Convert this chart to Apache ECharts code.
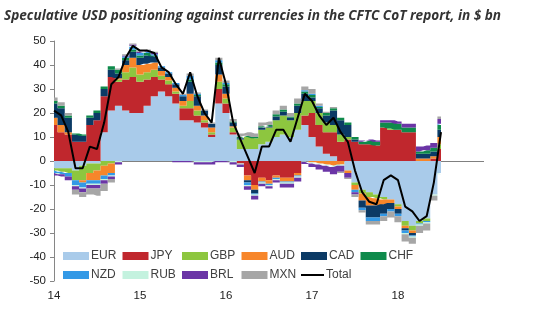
<!DOCTYPE html>
<html><head><meta charset="utf-8">
<script src="https://cdn.jsdelivr.net/npm/echarts@6/dist/echarts.min.js"></script>
<style>html,body{margin:0;padding:0;background:#fff}#c{width:549px;height:323px}</style>
</head><body><div id="c"></div>
<script>
// Monthly categories, Jan 2014 .. Jan 2019
const months = [
'2014-01','2014-02','2014-03','2014-04','2014-05','2014-06','2014-07','2014-08','2014-09','2014-10','2014-11','2014-12',
'2015-01','2015-02','2015-03','2015-04','2015-05','2015-06','2015-07','2015-08','2015-09','2015-10','2015-11','2015-12',
'2016-01','2016-02','2016-03','2016-04','2016-05','2016-06','2016-07','2016-08','2016-09','2016-10','2016-11','2016-12',
'2017-01','2017-02','2017-03','2017-04','2017-05','2017-06','2017-07','2017-08','2017-09','2017-10','2017-11','2017-12',
'2018-01','2018-02','2018-03','2018-04','2018-05','2018-06','2018-07','2018-08','2018-09','2018-10','2018-11','2018-12',
'2019-01'];
const tickLabels = ['14','15','16','17','18'];

const EUR = [-3,-3,-3,-4,-2,-1,-1,12,21,23,21,20, 20,23,27,29,27,24,17,17,16,14,10,24, 20,11,5,5,5,7,8,10,11,10,13,15, 10,6,3,2,0,-4,-9,-12,-13,-14,-15,-16, -18,-25,-27,-25,-24,-14,-5];
const JPY = [15,12,11,8,8,15,17,15,14,10,13,15, 13,11,8,5,5,4,5,5,3,2,1,6, 4,1,-1,-6,-10,-7,-8,-6,-7,-7,-5,4, 10,9,9,10,8,9,8,7,7,6.5,14,13, 13,12,12,0,0,1,5];
const GBP = [-1,-1.5,-2,-4,-6,-4,-3,-2,-1,1,3,4, 3,3,3,1.5,1.5,1,1,3,2,1,1,3, 2,2,4,5,4.5,6,6,7,8,7,7,6, 5,5,4,3,3,1,-1,-1.5,-2,-1.5,-1,0.5, -1,-2,-2,-1,-1,0,2];
const AUD = [3,3,1,0,-1,-3,-4,-4,-4,0.5,3,4, 4,3.5,3,2,1.5,1.5,2,3,2,2,2,3, 2,0.5,0,-2,-2,-1.5,-1.5,-1,-1.5,-1.5,-1,0, -0.5,-1,-1.5,-2,-1.5,-1,-2,-3,-3.5,-3,-2,-1.5, -1,-1,-1,1,1,1,3];
const CAD = [6,7,6,3,2.5,3,3,3,3,2,2,2.5, 3,3.5,2.5,1.5,1.5,1.5,2,5,4,2,1.5,4, 3,1.5,0.5,-1,-1.5,1,0.5,1.5,1.5,1,3,3, 1.5,2,3,6,6,5,1,-3,-5,-5,-4,-2.5, -2,-1,-1,2,2,2,3];
const CHF = [1,1,1,0.5,0.5,1,1,1,1.5,1.5,1,1, 1,1,0.5,0,0,0,0,1,0.5,0,0,1, 1,0.5,0.5,0.5,0.5,0.5,0.5,1,1,0.5,1,1, 1,0.5,1,1,1,1,1,1,1.5,1.5,2,2.5, 2.5,2,2,1,1.5,1.5,2];
const NZD = [-1,-1,-1.5,-2,-2,-1.5,-1.5,-1.5,-1,0,0.5,1, 1,0.5,0.5,0.5,0.5,0.5,0.5,1.5,0.5,0,0,1, 0.5,0,0,-1,-0.5,-0.5,-0.5,-0.5,-0.5,-0.5,-0.5,0.5, 0.5,0.5,0,0,0,0,-1,-1,-1.5,-1.5,-1,-1, -1,-1,-0.5,-0.5,-0.5,0,0.5];
const RUB = [0,0,0,-0.5,-0.5,-0.5,-0.5,-0.5,-0.5,-0.5,0,0.5, 0,0,0,0,0,0,0,0,-0.5,-0.5,-0.5,0, 0,-0.5,-0.5,-0.5,-0.5,-0.5,-0.5,-0.5,-0.5,-0.5,-0.5,-0.3, -0.5,-0.5,-0.5,-0.5,-0.5,0,0,0,0,0,0,0, 0,-0.5,-0.5,-0.5,-0.5,-0.5,-0.5];
const BRL = [-1,-1,-1.5,-1.5,-1.5,-1.5,-1.5,-1.5,-1,-1,0.5,0.5, 0.5,0.5,0.5,0,0,-0.5,-0.5,-0.5,-1,-1,-1,-0.5, -0.5,-1,-1,-1.5,-1.5,-1,-1,-1,-1.5,-1.5,-1.5,-1, -1.5,-2,-2.5,-3,-2.5,-2,-1,0.5,0.5,0.5,1,1, 1,1.5,1.5,2,2,2,2];
const MXN = [1.5,1.5,1,-2,-2,-2.5,-3,-3,-1.5,0.5,0.5,0.5, 0.5,0.5,0.5,0,0,0,0.5,1,0.5,0.5,0.5,1, 1,1,1.5,1.5,1.5,1.5,1.5,1.5,1.5,1.5,2,1.5, 2,1,0.5,0.5,-0.5,-0.5,-1,-1,-1.5,-1.5,-2,-2.5, -2.5,-3,-2.5,-3,-3,-2,1];
const TOTAL = [21,19,12,-3,-3,6,5,16,32,35,43,48, 46,46,45,39,37,32,28,37,27,20,16,43, 32,16,9,2,-5,6,6,13,13,8,18,28, 25,19,15,18,12,8,-4,-13,-17,-18,-8,-6, -8,-19,-21,-25,-23,-9,12];

const names = ['EUR','JPY','GBP','AUD','CAD','CHF','NZD','RUB','BRL','MXN'];
const values = [EUR,JPY,GBP,AUD,CAD,CHF,NZD,RUB,BRL,MXN];
const colors = ['#a9cbea','#c0272d','#8dc63f','#f7862a','#0b3a65','#0e8a4b','#3399e6','#c4f2df','#6b35a6','#a6a6a6'];

const series = names.map((n, i) => ({
  name: n, type: 'line', stack: 'all', stackStrategy: 'samesign', step: 'middle',
  symbol: 'none', showSymbol: false, data: values[i],
  lineStyle: { width: 0, opacity: 0 },
  itemStyle: { color: colors[i] },
  areaStyle: { color: colors[i], opacity: 1 },
  z: 2
}));
series.push({
  name: 'Total', type: 'line', data: TOTAL, symbol: 'none', showSymbol: false,
  lineStyle: { color: '#000', width: 2 }, itemStyle: { color: '#000' }, z: 5,
  markLine: { silent: true, symbol: 'none', label: { show: false },
    lineStyle: { color: '#808080', width: 1, type: 'solid' }, data: [{ yAxis: 0 }], z: 1 }
});

const legendNames = ['EUR','JPY','GBP','AUD','CAD','CHF','NZD','RUB','BRL','MXN','Total'];
const legends = legendNames.map((n, i) => {
  const col = i % 6, row = Math.floor(i / 6);
  const isTotal = n === 'Total';
  return {
    data: [{ name: n, icon: 'rect' }],
    left: 63 + col * 59.5, top: row === 0 ? 250 : 269,
    padding: 0, itemWidth: isTotal ? 23 : 26, itemHeight: isTotal ? 2 : 8, itemGap: 0,
    selectedMode: false,
    textStyle: { fontFamily: 'Liberation Sans', fontSize: 12, color: '#404040', padding: [0,0,0,-3] }
  };
});

const chart = echarts.init(document.getElementById('c'));
chart.setOption({
  animation: false,
  title: { text: 'Speculative USD positioning against currencies in the CFTC CoT report, in $ bn',
    left: 4, top: 9, padding: 0,
    textStyle: { fontFamily: 'Open Sans', fontStyle: 'italic', fontWeight: 'bold', fontSize: 13.6, color: '#333' } },
  legend: legends,
  grid: { left: 54, right: 65, top: 41, bottom: 42 },
  xAxis: {
    type: 'category', data: months, boundaryGap: false,
    axisLine: { show: false }, axisTick: { show: false }, splitLine: { show: false },
    axisLabel: {
      interval: (idx) => idx % 12 === 0 && idx < 60,
      formatter: (v, idx) => tickLabels[Math.floor(idx / 12)],
      margin: 9, fontFamily: 'Liberation Sans', fontSize: 11.5, color: '#222'
    }
  },
  yAxis: {
    type: 'value', min: -50, max: 50, interval: 10,
    axisLine: { show: true, lineStyle: { color: '#868686' } },
    axisTick: { show: true, length: 4, lineStyle: { color: '#868686' } },
    splitLine: { show: false },
    axisLabel: { margin: 8, fontFamily: 'Liberation Sans', fontSize: 11.5, color: '#222' }
  },
  series: series
});
</script></body></html>
